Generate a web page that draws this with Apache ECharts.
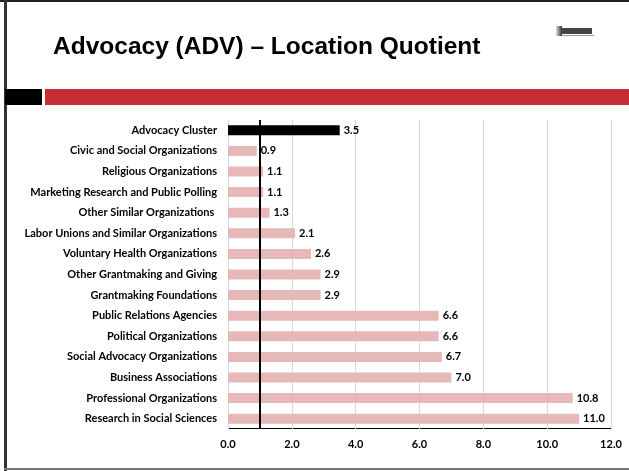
<!DOCTYPE html>
<html>
<head>
<meta charset="utf-8">
<script src="https://cdn.jsdelivr.net/npm/echarts@6/dist/echarts.min.js"></script>
<style>
  html, body { margin: 0; padding: 0; background: #fff; }
  #chart { width: 629px; height: 471px; }
</style>
</head>
<body>
<div id="chart"></div>
<script>
const categories = [
  'Advocacy Cluster',
  'Civic and Social Organizations',
  'Religious Organizations',
  'Marketing Research and Public Polling',
  'Other Similar Organizations ',
  'Labor Unions and Similar Organizations',
  'Voluntary Health Organizations',
  'Other Grantmaking and Giving',
  'Grantmaking Foundations',
  'Public Relations Agencies',
  'Political Organizations',
  'Social Advocacy Organizations',
  'Business Associations',
  'Professional Organizations',
  'Research in Social Sciences'
];
const values = [3.5, 0.9, 1.1, 1.1, 1.3, 2.1, 2.6, 2.9, 2.9, 6.6, 6.6, 6.7, 7.0, 10.8, 11.0];
const referenceValue = [1];
const titleText = 'Advocacy (ADV) \u2013 Location Quotient';

const labelFont = 'Lato, Calibri, sans-serif';

const chart = echarts.init(document.getElementById('chart'));
chart.setOption({
  animation: false,
  backgroundColor: '#fff',
  grid: { left: 228, right: 18, top: 120, bottom: 42 },
  xAxis: {
    type: 'value',
    min: 0,
    max: 12,
    interval: 2,
    axisLine: { show: false },
    axisTick: { show: false },
    axisLabel: {
      margin: 10,
      color: '#000',
      fontFamily: labelFont,
      fontWeight: 'bold',
      fontSize: 11,
      formatter: v => v.toFixed(1)
    },
    splitLine: { show: true, lineStyle: { color: '#d9d9d9', width: 1 } }
  },
  yAxis: {
    type: 'category',
    inverse: true,
    data: categories,
    axisLine: { show: false },
    axisTick: { show: false },
    axisLabel: {
      margin: 11,
      color: '#000',
      fontFamily: labelFont,
      fontWeight: 'bold',
      fontSize: 11
    }
  },
  series: [{
    type: 'bar',
    barWidth: 10,
    data: values.map((v, i) => ({
      value: v,
      itemStyle: { color: i === 0 ? '#000' : '#e6b8b7' }
    })),
    label: {
      show: true,
      position: 'right',
      distance: 4,
      color: '#000',
      fontFamily: labelFont,
      fontWeight: 'bold',
      fontSize: 11,
      formatter: p => p.value.toFixed(1)
    },
    markLine: {
      silent: true,
      symbol: 'none',
      label: { show: false },
      lineStyle: { color: '#000', width: 2, type: 'solid' },
      data: referenceValue.map(v => ({ xAxis: v }))
    }
  }],
  graphic: [
    // slide frame
    { type: 'rect', shape: { x: 0, y: 0, width: 629, height: 2 }, style: { fill: '#222' } },
    { type: 'rect', shape: { x: 4, y: 0, width: 3, height: 471 }, style: { fill: '#333' } },
    { type: 'rect', shape: { x: 4, y: 468, width: 625, height: 2 }, style: { fill: '#777' } },
    // header band
    { type: 'rect', shape: { x: 5, y: 89, width: 37, height: 16 }, style: { fill: '#000' } },
    { type: 'rect', shape: { x: 45, y: 89, width: 584, height: 16 }, style: { fill: '#c62d36' } },
    {
      type: 'text', left: 53, top: 35,
      style: { text: titleText, fill: '#000', font: 'bold 24.5px "Liberation Sans", Arial, sans-serif' }
    },
    // small logo
    {
      type: 'group', left: 556, top: 26,
      children: [
        { type: 'rect', shape: { x: 0, y: 0, width: 6, height: 10 },
          style: { fill: new echarts.graphic.LinearGradient(0, 0, 1, 0, [{ offset: 0, color: '#ddd' }, { offset: 1, color: '#333' }]) } },
        { type: 'rect', shape: { x: 6, y: 2, width: 30, height: 6 }, style: { fill: '#444' } },
        { type: 'rect', shape: { x: 6, y: 9, width: 32, height: 1 }, style: { fill: '#999' } }
      ]
    },
    // x axis baseline
    { type: 'rect', shape: { x: 228, y: 428, width: 383, height: 1 }, style: { fill: '#000' } }
  ]
});
</script>
</body>
</html>
